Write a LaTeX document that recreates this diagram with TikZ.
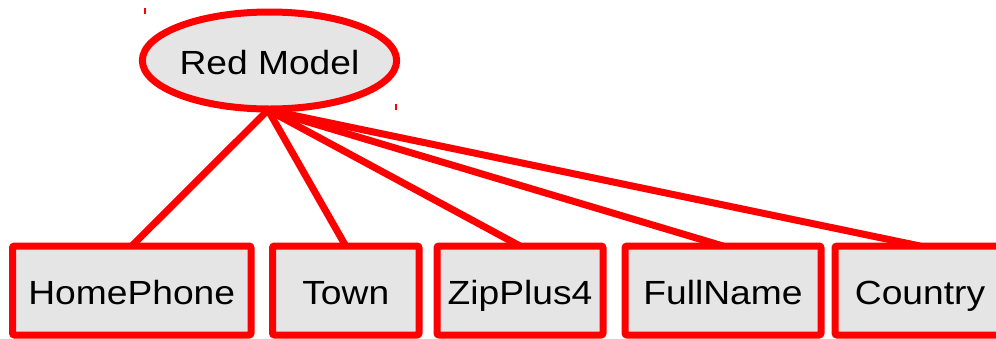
\documentclass[tikz,border=0pt]{standalone}
\usepackage{fontspec}
\setmainfont{Liberation Sans}[FakeStretch=1.11]
\usetikzlibrary{shapes.geometric}
\definecolor{fillgray}{HTML}{E5E5E5}
\tikzset{
  base/.style={draw=red, fill=fillgray, line width=7pt, inner sep=0pt,
    font=\fontsize{33.5}{40}\selectfont, text=black,
    text height=28pt, text depth=0pt},
  model/.style={base, ellipse, minimum width=249pt, minimum height=97pt},
  field/.style={base, rectangle, rounded corners=2pt, minimum height=89pt},
  link/.style={draw=red, line width=7pt},
  tick/.style={draw=red, line width=1.5pt}
}
\begin{document}
\begin{tikzpicture}[x=1pt, y=-1pt]
  \useasboundingbox (0,0) rectangle (996,338);
  % connectors first so the nodes sit on top
  \coordinate (top) at (268,110);
  \coordinate (c1) at (131.75,246);
  \coordinate (c2) at (345.75,246);
  \coordinate (c3) at (520,246);
  \coordinate (c4) at (723,246);
  \coordinate (c5) at (920,246);
  \draw[link] (top) -- (c1);
  \draw[link] (top) -- (c2);
  \draw[link] (top) -- (c3);
  \draw[link] (top) -- (c4);
  \draw[link] (top) -- (c5);
  % root node
  \node[model] (red) at (269.5,60.5) {Red Model};
  % field nodes
  \node[field, minimum width=238.5pt] (homephone) at (131.75,290.5) {HomePhone};
  \node[field, minimum width=146.5pt] (town) at (345.75,290.5) {Town};
  \node[field, minimum width=166pt] (zip) at (520,290.5) {ZipPlus4};
  \node[field, minimum width=196pt] (fullname) at (723,290.5) {FullName};
  \node[field, minimum width=170pt] (country) at (920,290.5) {Country};
  % small marks near the root
  \draw[tick] (145,8) -- (145,14);
  \draw[tick] (396,104) -- (396,110);
\end{tikzpicture}
\end{document}
